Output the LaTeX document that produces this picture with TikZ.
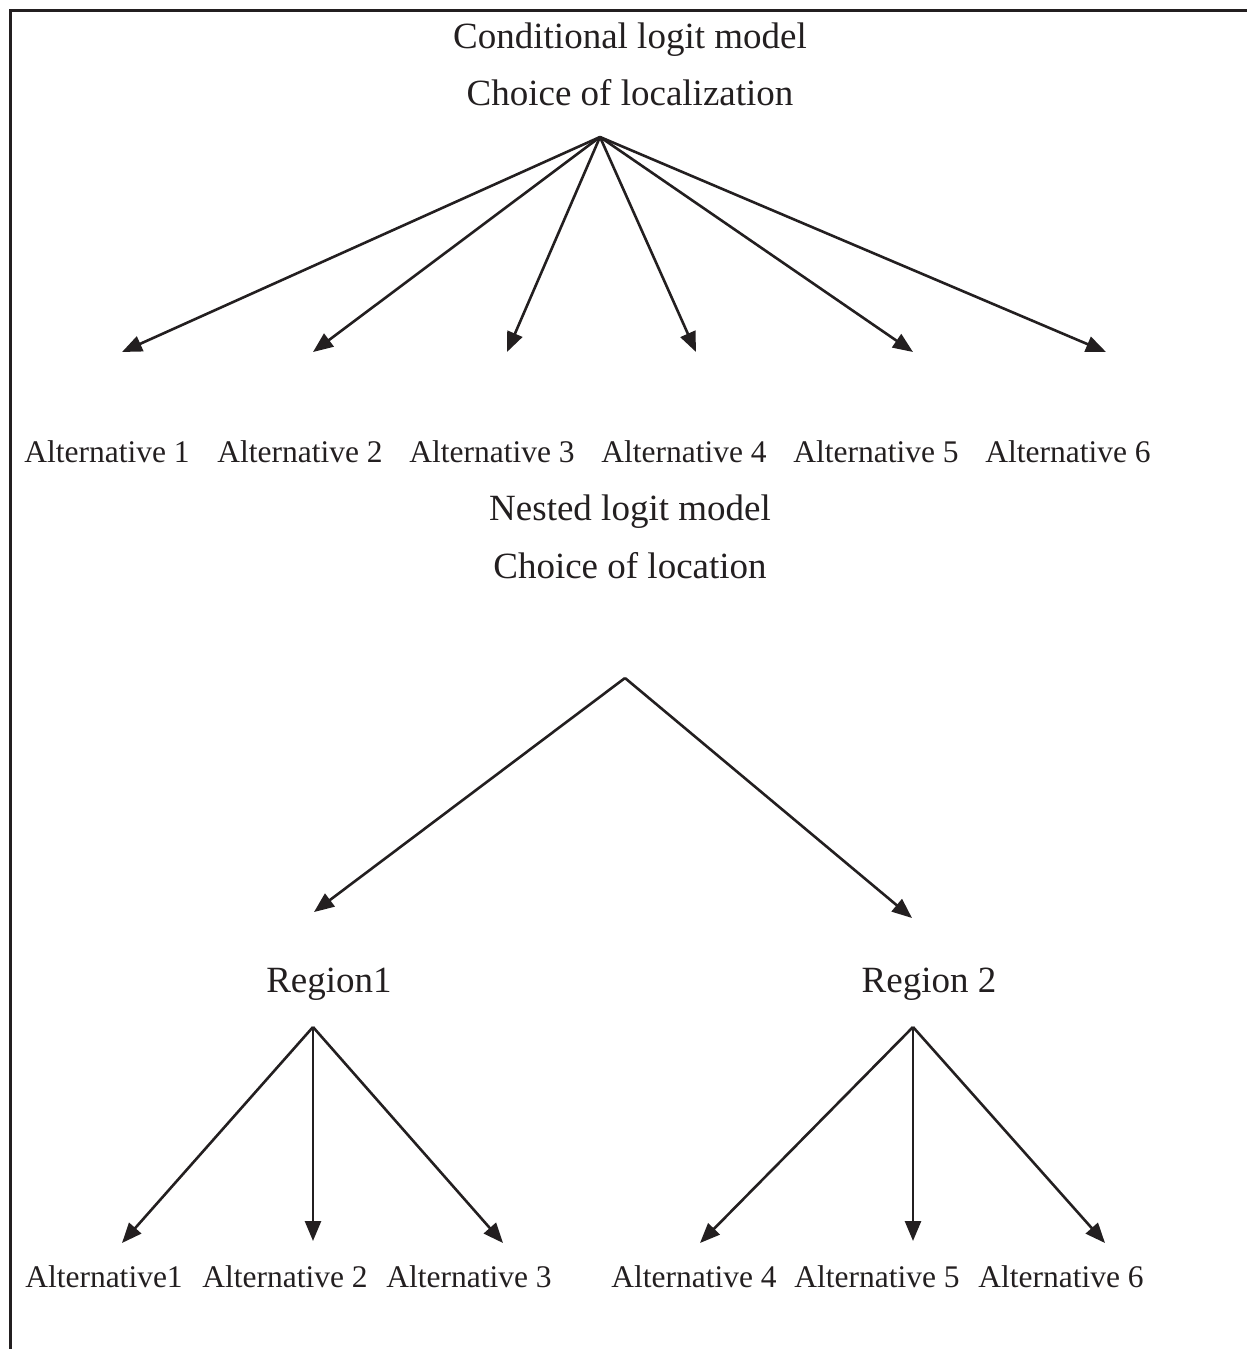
\documentclass[tikz,border=0pt]{standalone}
\usepackage{fontspec}
\setmainfont{Liberation Serif}
\usepackage{xcolor}
\definecolor{Ink}{RGB}{35,31,32}
\usepackage{tikz}
\usetikzlibrary{arrows.meta}
\tikzstyle{Frame}=[draw=Ink,line width=3pt]
\tikzstyle{Edge}=[draw=Ink,line width=2.6pt,-{Triangle[length=20pt,width=16pt]}]
\tikzstyle{NodeTitle}=[anchor=base,inner sep=0pt,text=Ink,
font=\fontsize{37}{44}\selectfont]
\tikzstyle{NodeAlt}=[anchor=base,inner sep=0pt,text=Ink,
font=\fontsize{31.5}{38}\selectfont]

\begin{document}
\begin{tikzpicture}[x=1pt,y=-1pt]
        \useasboundingbox(0,0)rectangle(1247,1349);
        \draw[Frame](1247,10)--(10,10)--(10,1349);
        % conditional logit
        \node[NodeTitle](t1)at(630,48){Conditional logit model};
        \node[NodeTitle](t2)at(630,105){Choice of localization};
        \coordinate(r)at(600,137);
        \coordinate(e1)at(122,352);
        \coordinate(e2)at(313,352);
        \coordinate(e3)at(507,352);
        \coordinate(e4)at(696,352);
        \coordinate(e5)at(913,352);
        \coordinate(e6)at(1106,352);
        \node[NodeAlt](a1)at(107,462){Alternative 1};
        \node[NodeAlt](a2)at(300,462){Alternative 2};
        \node[NodeAlt](a3)at(492,462){Alternative 3};
        \node[NodeAlt](a4)at(684,462){Alternative 4};
        \node[NodeAlt](a5)at(876,462){Alternative 5};
        \node[NodeAlt](a6)at(1068,462){Alternative 6};
        \foreach \i in {1,...,6}
            \draw[Edge](r)--(e\i);
        % nested logit
        \node[NodeTitle](t3)at(630,520){Nested logit model};
        \node[NodeTitle](t4)at(630,578){Choice of location};
        \coordinate(s)at(625,678);
        \coordinate(f1)at(314,912);
        \coordinate(f2)at(912,918);
        \draw[Edge](s)--(f1);
        \draw[Edge](s)--(f2);
        \node[NodeTitle](g1)at(329,992){Region1};
        \node[NodeTitle](g2)at(929,992){Region 2};
        \coordinate(u1)at(313,1027);
        \coordinate(u2)at(913,1027);
        \coordinate(h1)at(122,1243);
        \coordinate(h2)at(313,1241);
        \coordinate(h3)at(503,1243);
        \coordinate(h4)at(700,1243);
        \coordinate(h5)at(913,1241);
        \coordinate(h6)at(1105,1243);
        \foreach \i in {1,2,3}
            \draw[Edge](u1)--(h\i);
        \foreach \i in {4,5,6}
            \draw[Edge](u2)--(h\i);
        \node[NodeAlt](b1)at(104,1287){Alternative1};
        \node[NodeAlt](b2)at(285,1287){Alternative 2};
        \node[NodeAlt](b3)at(469,1287){Alternative 3};
        \node[NodeAlt](b4)at(694,1287){Alternative 4};
        \node[NodeAlt](b5)at(877,1287){Alternative 5};
        \node[NodeAlt](b6)at(1061,1287){Alternative 6};
    \end{tikzpicture}
\end{document}
